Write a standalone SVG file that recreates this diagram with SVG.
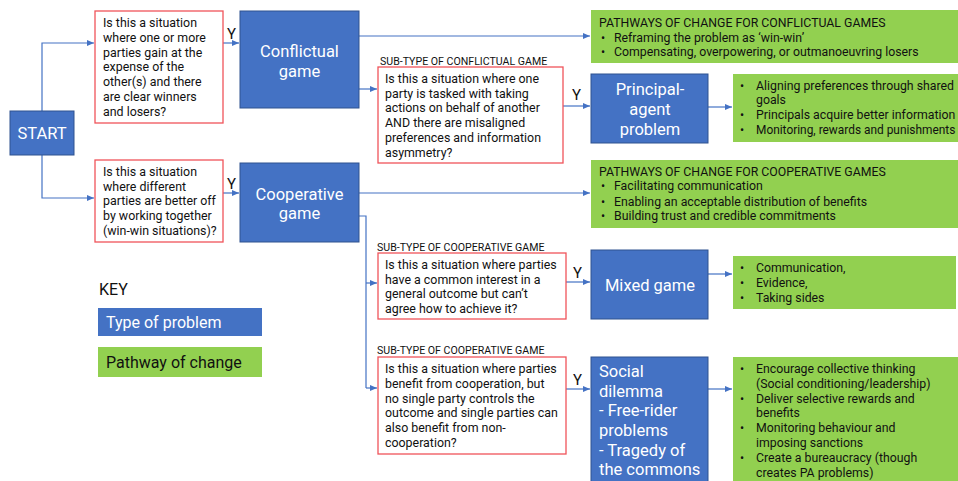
<svg xmlns="http://www.w3.org/2000/svg" width="958" height="481" viewBox="0 0 958 481">
<style>
text{font-family:Roboto,"Noto Sans","DejaVu Sans",sans-serif;}
.q{fill:#fff;stroke:#F0545A;stroke-width:1.3;}
.qt{font-size:12.4px;fill:#111;}
.b{fill:#4472C4;stroke:#2F528F;stroke-width:1;}
.bt{font-size:16.5px;fill:#fff;}
.g{fill:#92D050;}
.gt{font-size:12.3px;fill:#111;}
.st{font-size:10.6px;fill:#111;}
.y{font-size:15px;fill:#111;}
.c{fill:none;stroke:#4472C4;stroke-width:1.2;}
</style>
<defs>
<marker id="ah" markerWidth="8" markerHeight="8" refX="7" refY="4" orient="auto" markerUnits="userSpaceOnUse">
<path d="M0,1 L7,4 L0,7 Z" fill="#4472C4"/>
</marker>
</defs>
<g id="connectors">
<path class="c" d="M42,111 V43 H94" marker-end="url(#ah)"/>
<path class="c" d="M42,155 V198 H94" marker-end="url(#ah)"/>
<path class="c" d="M223,43 H239" marker-end="url(#ah)"/>
<path class="c" d="M223,193 H239" marker-end="url(#ah)"/>
<path class="c" d="M359,36 H590" marker-end="url(#ah)"/>
<path class="c" d="M359,89 H377" marker-end="url(#ah)"/>
<path class="c" d="M563,106 H590" marker-end="url(#ah)"/>
<path class="c" d="M708,107 H732" marker-end="url(#ah)"/>
<path class="c" d="M359,193 H590" marker-end="url(#ah)"/>
<path class="c" d="M359,216 H366 V388"/>
<path class="c" d="M366,283 H377" marker-end="url(#ah)"/>
<path class="c" d="M366,388 H377" marker-end="url(#ah)"/>
<path class="c" d="M566,282 H590" marker-end="url(#ah)"/>
<path class="c" d="M708,274 H732" marker-end="url(#ah)"/>
<path class="c" d="M566,389 H590" marker-end="url(#ah)"/>
<path class="c" d="M708,389 H732" marker-end="url(#ah)"/>
</g>
<g id="start">
<rect class="b" x="10" y="111" width="64" height="44"/>
<text class="bt" x="42" y="139" text-anchor="middle">START</text>
</g>
<g id="q1">
<rect class="q" x="95" y="11" width="128" height="112"/>
<text class="qt" x="103"><tspan x="103" y="27">Is this a situation</tspan><tspan x="103" y="41.8">where one or more</tspan><tspan x="103" y="56.7">parties gain at the</tspan><tspan x="103" y="71.4">expense of the</tspan><tspan x="103" y="86.1">other(s) and there</tspan><tspan x="103" y="101">are clear winners</tspan><tspan x="103" y="115.7">and losers?</tspan></text>
<text class="y" x="227" y="39">Y</text>
</g>
<g id="conflictual">
<rect class="b" x="240" y="11" width="119" height="97"/>
<text class="bt" x="299.5" y="57" text-anchor="middle">Conflictual</text>
<text class="bt" x="299.5" y="77" text-anchor="middle">game</text>
</g>
<g id="q2">
<rect class="q" x="95" y="160" width="128" height="82"/>
<text class="qt"><tspan x="103" y="176">Is this a situation</tspan><tspan x="103" y="191">where different</tspan><tspan x="103" y="205.4">parties are better off</tspan><tspan x="103" y="220.3">by working together</tspan><tspan x="103" y="235">(win-win situations)?</tspan></text>
<text class="y" x="227" y="189">Y</text>
</g>
<g id="cooperative">
<rect class="b" x="240" y="163" width="119" height="79"/>
<text class="bt" x="299.5" y="200" text-anchor="middle">Cooperative</text>
<text class="bt" x="299.5" y="219" text-anchor="middle">game</text>
</g>
<g id="pathways-conflictual">
<rect class="g" x="591" y="10" width="367" height="53"/>
<text class="gt"><tspan x="599" y="27">PATHWAYS OF CHANGE FOR CONFLICTUAL GAMES</tspan><tspan x="601" y="41.5">•</tspan><tspan x="614" y="41.5">Reframing the problem as ‘win-win’</tspan><tspan x="601" y="56">•</tspan><tspan x="614" y="56">Compensating, overpowering, or outmanoeuvring losers</tspan></text>
</g>
<g id="q3">
<text class="st" x="380" y="64.8">SUB-TYPE OF CONFLICTUAL GAME</text>
<rect class="q" x="378" y="67" width="185" height="96"/>
<text class="qt"><tspan x="385" y="83">Is this a situation where one</tspan><tspan x="385" y="97.7">party is tasked with taking</tspan><tspan x="385" y="112">actions on behalf of another</tspan><tspan x="385" y="127">AND there are misaligned</tspan><tspan x="385" y="141.7">preferences and information</tspan><tspan x="385" y="157">asymmetry?</tspan></text>
<text class="y" x="572" y="100">Y</text>
</g>
<g id="principal-agent">
<rect class="b" x="591" y="74" width="117" height="69"/>
<text class="bt" x="650" y="95" text-anchor="middle">Principal-</text>
<text class="bt" x="650" y="115" text-anchor="middle">agent</text>
<text class="bt" x="650" y="134.5" text-anchor="middle">problem</text>
</g>
<g id="pathways-pa">
<rect class="g" x="733" y="74" width="225" height="68"/>
<text class="gt"><tspan x="740" y="89.5">•</tspan><tspan x="756" y="89.5">Aligning preferences through shared</tspan><tspan x="756" y="104.3">goals</tspan><tspan x="740" y="119.3">•</tspan><tspan x="756" y="119.3">Principals acquire better information</tspan><tspan x="740" y="133.5">•</tspan><tspan x="756" y="133.5" style="font-size:11.9px">Monitoring, rewards and punishments</tspan></text>
</g>
<g id="pathways-cooperative">
<rect class="g" x="591" y="160" width="367" height="68"/>
<text class="gt"><tspan x="599" y="176">PATHWAYS OF CHANGE FOR COOPERATIVE GAMES</tspan><tspan x="601" y="190.3">•</tspan><tspan x="614" y="190.3">Facilitating communication</tspan><tspan x="601" y="205.6">•</tspan><tspan x="614" y="205.6">Enabling an acceptable distribution of benefits</tspan><tspan x="601" y="220.3">•</tspan><tspan x="614" y="220.3">Building trust and credible commitments</tspan></text>
</g>
<g id="q4">
<text class="st" x="377" y="250.5">SUB-TYPE OF COOPERATIVE GAME</text>
<rect class="q" x="378" y="253" width="188" height="66"/>
<text class="qt"><tspan x="385" y="268.6">Is this a situation where parties</tspan><tspan x="385" y="283.6">have a common interest in a</tspan><tspan x="385" y="298.3">general outcome but can’t</tspan><tspan x="385" y="313.3">agree how to achieve it?</tspan></text>
<text class="y" x="573" y="278">Y</text>
</g>
<g id="mixed">
<rect class="b" x="591" y="250" width="117" height="69"/>
<text class="bt" x="650" y="290.5" text-anchor="middle">Mixed game</text>
</g>
<g id="pathways-mixed">
<rect class="g" x="733" y="256" width="223" height="53"/>
<text class="gt"><tspan x="740" y="271.5">•</tspan><tspan x="756" y="271.5">Communication,</tspan><tspan x="740" y="286.5">•</tspan><tspan x="756" y="286.5">Evidence,</tspan><tspan x="740" y="301.5">•</tspan><tspan x="756" y="301.5">Taking sides</tspan></text>
</g>
<g id="q5">
<text class="st" x="377" y="354">SUB-TYPE OF COOPERATIVE GAME</text>
<rect class="q" x="378" y="357" width="188" height="97"/>
<text class="qt"><tspan x="385" y="373">Is this a situation where parties</tspan><tspan x="385" y="388.3">benefit from cooperation, but</tspan><tspan x="385" y="402.6">no single party controls the</tspan><tspan x="385" y="417.3">outcome and single parties can</tspan><tspan x="385" y="432.3">also benefit from non-</tspan><tspan x="385" y="447">cooperation?</tspan></text>
<text class="y" x="573" y="385">Y</text>
</g>
<g id="social-dilemma">
<rect class="b" x="591" y="357" width="117" height="126"/>
<text class="bt"><tspan x="599" y="377">Social</tspan><tspan x="599" y="396.7">dilemma</tspan><tspan x="599" y="416.4">- Free-rider</tspan><tspan x="599" y="436">problems</tspan><tspan x="599" y="455.7">- Tragedy of</tspan><tspan x="599" y="475.3">the commons</tspan></text>
</g>
<g id="pathways-social">
<rect class="g" x="733" y="357" width="225" height="126"/>
<text class="gt"><tspan x="740" y="373">•</tspan><tspan x="756" y="373">Encourage collective thinking</tspan><tspan x="756" y="388.3">(Social conditioning/leadership)</tspan><tspan x="740" y="402.6">•</tspan><tspan x="756" y="402.6">Deliver selective rewards and</tspan><tspan x="756" y="417.3">benefits</tspan><tspan x="740" y="432.3">•</tspan><tspan x="756" y="432.3">Monitoring behaviour and</tspan><tspan x="756" y="447">imposing sanctions</tspan><tspan x="740" y="462">•</tspan><tspan x="756" y="462">Create a bureaucracy (though</tspan><tspan x="756" y="476.6">creates PA problems)</tspan></text>
</g>
<g id="key">
<text x="99" y="295" style="font-size:16px;fill:#111">KEY</text>
<rect x="98" y="308" width="164" height="28" fill="#4472C4"/>
<text x="106" y="328" style="font-size:16px;fill:#fff">Type of problem</text>
<rect x="98" y="347" width="164" height="30" fill="#92D050"/>
<text x="106" y="368" style="font-size:16px;fill:#111">Pathway of change</text>
</g>
</svg>
